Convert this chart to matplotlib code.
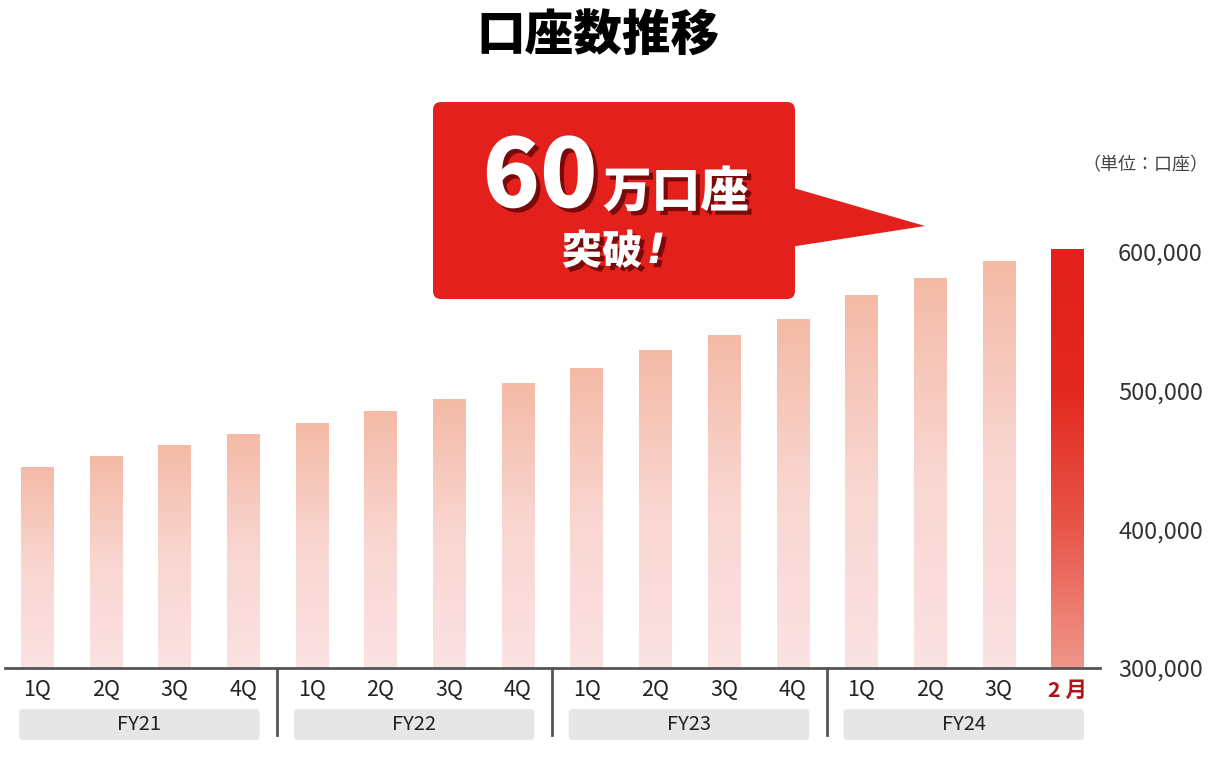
import numpy as np
import matplotlib
matplotlib.use("Agg")
import matplotlib.pyplot as plt
from matplotlib.patches import FancyBboxPatch, Polygon
from matplotlib import transforms
import matplotlib.patheffects as pe
from matplotlib.colors import LinearSegmentedColormap

plt.rcParams['font.family'] = ['Noto Sans CJK JP', 'DejaVu Sans']

# data
quarters = ['1Q', '2Q', '3Q', '4Q'] * 3 + ['1Q', '2Q', '3Q', '2 月']
years = ['FY21', 'FY22', 'FY23', 'FY24']
accounts = [444500, 452600, 460600, 468600, 476600, 484700, 493400, 505000,
            516000, 529000, 540000, 551000, 568600, 581000, 593400, 601500]
yticks = [300000, 400000, 500000, 600000]

fig = plt.figure(figsize=(12.1, 7.73), dpi=100)
W, H = 1210, 773

# main axes: x pixel 5..1100, y pixel 100..668
ax = fig.add_axes([5 / W, (H - 668) / H, 1095 / W, 568 / H])
x0 = (5 - 37) / 68.7
x1 = (1100 - 37) / 68.7
ymin = 300000
ymax = ymin + (668 - 100) / 138.7 * 100000

pale = LinearSegmentedColormap.from_list('pale', ['#FBE2E3', '#F9D6D1', '#F4BAA6'])
red = LinearSegmentedColormap.from_list('red', ['#F0968A', '#E8564A', '#E3281F', '#E3201B'])
grad = np.linspace(0, 1, 256).reshape(-1, 1)
bw = 0.47
for i, v in enumerate(accounts):
    cmap = red if i == len(accounts) - 1 else pale
    ax.imshow(grad, cmap=cmap, origin='lower', aspect='auto',
              extent=[i - bw / 2, i + bw / 2, ymin, v], zorder=2)
ax.set_xlim(x0, x1)
ax.set_ylim(ymin, ymax)

for s in ['top', 'left', 'right']:
    ax.spines[s].set_visible(False)
ax.spines['bottom'].set_color('#555555')
ax.spines['bottom'].set_linewidth(2)
ax.spines['bottom'].set_zorder(3)
ax.set_xticks([])
ax.yaxis.tick_right()
ax.set_yticks(yticks)
ax.set_yticklabels([f'{t:,}' for t in yticks], fontsize=17, color='#333333')
ax.tick_params(axis='y', length=0, pad=13)
ax.patch.set_visible(False)

# overlay in pixel coordinates
ov = fig.add_axes([0, 0, 1, 1])
ov.set_xlim(0, W)
ov.set_ylim(H, 0)
ov.axis('off')
ov.patch.set_visible(False)
blend = transforms.blended_transform_factory(ax.transData, ov.transData)

for i, q in enumerate(quarters):
    last = i == len(quarters) - 1
    ov.text(i, 690, q, transform=blend, ha='center', va='center', fontsize=15.5,
            color='#B0141B' if last else '#222222',
            fontweight='bold' if last else 'normal')

for g, yr in enumerate(years):
    a = 4 * g - 0.26
    b = 4 * g + 3 + 0.24
    ov.add_patch(FancyBboxPatch((a, 709), b - a, 31, transform=blend,
                                boxstyle='round,pad=0,rounding_size=0.06',
                                fc='#E6E6E6', ec='none', mutation_aspect=31 / 0.5))
    ov.text((a + b) / 2, 725, yr, transform=blend, ha='center', va='center',
            fontsize=14.5, color='#222222')
for d in [3.5, 7.5, 11.5]:
    ov.plot([d, d], [668, 735], transform=blend, color='#555555', lw=2)

# title and unit
ov.text(598, 36, '口座数推移', ha='center', va='center', fontsize=35,
        fontweight='heavy', color='black')
ov.text(1145, 165, '（単位：口座）', ha='center', va='center', fontsize=13,
        color='#444444')

# callout
callred = '#E3201B'
ov.add_patch(FancyBboxPatch((433, 102), 362, 197, boxstyle='round,pad=0,rounding_size=8',
                            fc=callred, ec='none'))
ov.add_patch(Polygon([(790, 187), (925, 226), (790, 247)], closed=True,
                     fc=callred, ec='none'))
shadow = [pe.withSimplePatchShadow(offset=(3, -3), shadow_rgbFace='#7A0A0A', alpha=1)]
ov.text(540, 207, '60', ha='center', va='baseline', fontsize=68, fontweight='heavy',
        color='white', path_effects=shadow)
ov.text(603, 207, '万口座', ha='left', va='baseline', fontsize=35, fontweight='heavy',
        color='white', path_effects=shadow)
ov.text(602, 252, '突破', ha='center', va='center', fontsize=29, fontweight='heavy',
        color='white', path_effects=shadow)
ov.text(656, 251, '!', ha='center', va='center', fontsize=30, fontweight='heavy',
        style='italic', color='white', family=['DejaVu Sans'], path_effects=shadow)

fig.savefig('out.png', dpi=100)
